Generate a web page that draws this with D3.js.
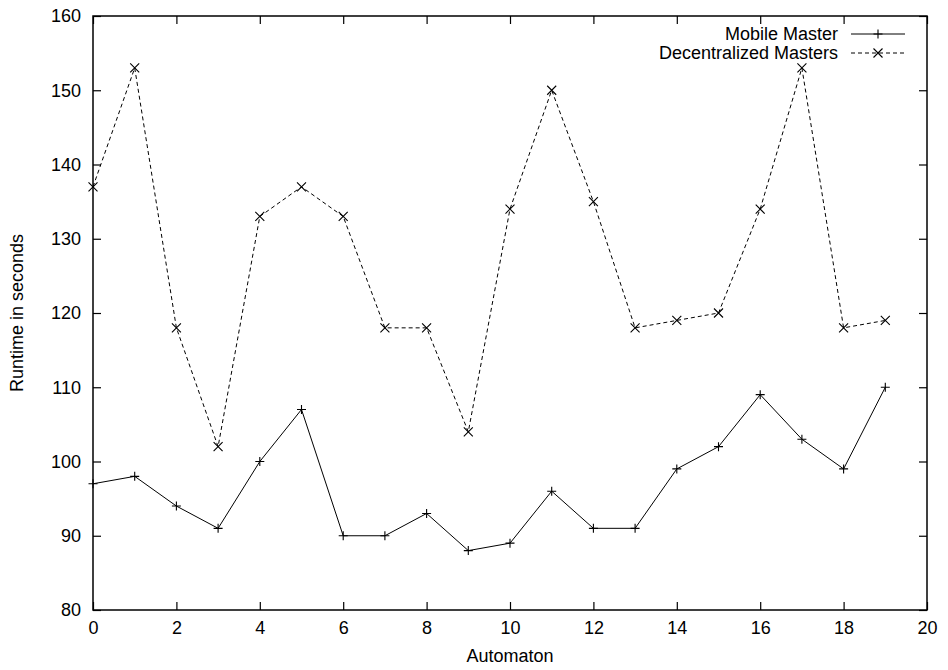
<!DOCTYPE html>
<html>
<head>
<meta charset="utf-8">
<script src="https://cdn.jsdelivr.net/npm/d3@7"></script>
<style>
  body { margin: 0; background: #fff; }
  svg text { font-family: "Liberation Sans", Arial, Helvetica, sans-serif; fill: #000; }
</style>
</head>
<body>
<svg id="chart" width="948" height="670"></svg>
<script>
// automaton index 0..19
const automata = d3.range(0, 20);
const mobileMaster = [97, 98, 94, 91, 100, 107, 90, 90, 93, 88, 89, 96, 91, 91, 99, 102, 109, 103, 99, 110];
const decentralized = [137, 153, 118, 102, 133, 137, 133, 118, 118, 104, 134, 150, 135, 118, 119, 120, 134, 153, 118, 119];
const xTicks = [0, 2, 4, 6, 8, 10, 12, 14, 16, 18, 20];
const yTicks = [80, 90, 100, 110, 120, 130, 140, 150, 160];
const seriesNames = ["Mobile Master", "Decentralized Masters"];

const width = 948, height = 670;
const margin = { top: 16, right: 21, bottom: 60, left: 93 };
const svg = d3.select("#chart");
const fontSize = 18;

const x = d3.scaleLinear().domain([0, 20]).range([margin.left, width - margin.right]);
const y = d3.scaleLinear().domain([80, 160]).range([height - margin.bottom, margin.top]);

const tickLen = 8;

// bottom axis, ticks pointing inward
const xAxis = svg.append("g")
  .attr("transform", `translate(0,${y(80)})`)
  .call(d3.axisBottom(x).tickValues(xTicks).tickSize(-tickLen).tickPadding(11));
// top mirror ticks
const xTop = svg.append("g")
  .attr("transform", `translate(0,${y(160)})`)
  .call(d3.axisTop(x).tickValues(xTicks).tickSize(-tickLen).tickFormat(""));
// left axis
const yAxis = svg.append("g")
  .attr("transform", `translate(${x(0)},0)`)
  .call(d3.axisLeft(y).tickValues(yTicks).tickSize(-tickLen).tickPadding(12));
// right mirror ticks
const yRight = svg.append("g")
  .attr("transform", `translate(${x(20)},0)`)
  .call(d3.axisRight(y).tickValues(yTicks).tickSize(-tickLen).tickFormat(""));

[xAxis, xTop, yAxis, yRight].forEach(g => {
  g.select(".domain").remove();
  g.selectAll(".tick line").attr("stroke", "#000").attr("stroke-width", 1.2);
  g.selectAll("text").style("font-size", fontSize + "px");
});

// frame
svg.append("rect")
  .attr("x", x(0)).attr("y", y(160))
  .attr("width", x(20) - x(0)).attr("height", y(80) - y(160))
  .attr("fill", "none").attr("stroke", "#000").attr("stroke-width", 1.5);

// axis titles
svg.append("text")
  .attr("x", (x(0) + x(20)) / 2).attr("y", 662)
  .attr("text-anchor", "middle")
  .style("font-size", fontSize + "px")
  .text("Automaton");
svg.append("text")
  .attr("transform", `translate(23,${(y(80) + y(160)) / 2}) rotate(-90)`)
  .attr("text-anchor", "middle")
  .style("font-size", fontSize + "px")
  .text("Runtime in seconds");

const line = d3.line()
  .x((d, i) => x(automata[i]))
  .y(d => y(d));

const plusPath = s => `M${-s},0H${s}M0,${-s}V${s}`;
const crossPath = s => `M${-s},${-s}L${s},${s}M${-s},${s}L${s},${-s}`;

// decentralized masters (dashed, x markers)
svg.append("path")
  .datum(decentralized)
  .attr("fill", "none").attr("stroke", "#000").attr("stroke-width", 1)
  .attr("stroke-dasharray", "4,3")
  .attr("d", line);
svg.append("g").selectAll("path")
  .data(decentralized)
  .join("path")
  .attr("transform", (d, i) => `translate(${x(automata[i])},${y(d)})`)
  .attr("d", crossPath(4.5))
  .attr("stroke", "#000").attr("stroke-width", 1.1);

// mobile master (solid, + markers)
svg.append("path")
  .datum(mobileMaster)
  .attr("fill", "none").attr("stroke", "#000").attr("stroke-width", 1)
  .attr("d", line);
svg.append("g").selectAll("path")
  .data(mobileMaster)
  .join("path")
  .attr("transform", (d, i) => `translate(${x(automata[i])},${y(d)})`)
  .attr("d", plusPath(4.5))
  .attr("stroke", "#000").attr("stroke-width", 1.1);

// legend
const legend = svg.append("g");
const legendRows = [
  { name: seriesNames[0], dash: null, marker: plusPath(4.5), cy: 34 },
  { name: seriesNames[1], dash: "4,3", marker: crossPath(4.5), cy: 53 }
];
legendRows.forEach(r => {
  legend.append("text")
    .attr("x", 838).attr("y", r.cy)
    .attr("dy", "0.35em")
    .attr("text-anchor", "end")
    .style("font-size", fontSize + "px")
    .text(r.name);
  legend.append("line")
    .attr("x1", 851).attr("x2", 905)
    .attr("y1", r.cy).attr("y2", r.cy)
    .attr("stroke", "#000").attr("stroke-width", 1)
    .attr("stroke-dasharray", r.dash);
  legend.append("path")
    .attr("transform", `translate(878,${r.cy})`)
    .attr("d", r.marker)
    .attr("stroke", "#000").attr("stroke-width", 1.1);
});
</script>
</body>
</html>
